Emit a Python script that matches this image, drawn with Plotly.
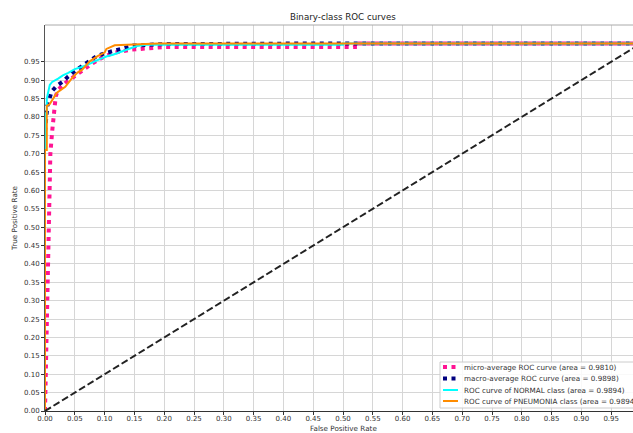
import plotly.graph_objects as go

# ---- data ----
micro_fpr = [0.0, 0.002, 0.004, 0.007, 0.009, 0.012, 0.015, 0.018, 0.022, 0.028, 0.034, 0.045,
             0.059, 0.076, 0.092, 0.114, 0.146, 0.20, 0.52, 0.52, 1.0]
micro_tpr = [0.0, 0.15, 0.35, 0.62, 0.70, 0.76, 0.81, 0.856, 0.874, 0.885, 0.892, 0.905,
             0.923, 0.942, 0.958, 0.974, 0.983, 0.99, 0.99, 1.0, 1.0]

macro_fpr = [0.0, 0.004, 0.008, 0.011, 0.02, 0.03, 0.039, 0.047, 0.07, 0.087, 0.10,
             0.112, 0.123, 0.134, 0.148, 0.17, 0.198, 0.5, 1.0]
macro_tpr = [0.76, 0.83, 0.852, 0.869, 0.885, 0.896, 0.91, 0.921, 0.947, 0.966, 0.973,
             0.978, 0.983, 0.988, 0.994, 0.996, 0.998, 1.0, 1.0]

normal_fpr = [0.0, 0.0, 0.003, 0.003, 0.008, 0.012, 0.022, 0.03, 0.039, 0.05, 0.06, 0.072,
              0.089, 0.104, 0.114, 0.134, 0.154, 0.17, 0.5, 0.5, 1.0]
normal_tpr = [0.0, 0.81, 0.81, 0.85, 0.887, 0.895, 0.904, 0.913, 0.92, 0.93, 0.935, 0.942,
              0.955, 0.965, 0.969, 0.982, 0.993, 0.996, 0.996, 1.0, 1.0]

pneu_fpr = [0.0, 0.0, 0.003, 0.003, 0.008, 0.02, 0.034, 0.045, 0.054, 0.062, 0.075, 0.089,
            0.10, 0.103, 0.117, 0.15, 0.19, 1.0]
pneu_tpr = [0.0, 0.71, 0.71, 0.83, 0.835, 0.866, 0.882, 0.905, 0.92, 0.928, 0.951, 0.966,
            0.975, 0.985, 0.995, 0.998, 1.0, 1.0]

diag_x = [0.0, 1.0]
diag_y = [0.0, 1.0]

labels = [
    "micro-average ROC curve (area = 0.9810)",
    "macro-average ROC curve (area = 0.9898)",
    "ROC curve of NORMAL class (area = 0.9894)",
    "ROC curve of PNEUMONIA class (area = 0.9894)",
]
colors = ["#FF1493", "#000080", "#00FFFF", "#FF8C00"]

tick_vals = [0.0, 0.05, 0.10, 0.15, 0.20, 0.25, 0.30, 0.35, 0.40, 0.45,
             0.50, 0.55, 0.60, 0.65, 0.70, 0.75, 0.80, 0.85, 0.90, 0.95]
tick_text = ["%.2f" % v for v in tick_vals]

FONT = "DejaVu Sans"
TXT = "#333333"

W, H = 633, 433
L, T, B = 45, 25, 22
plot_w = W - L
plot_h = H - T - B
x_max = plot_w / 596.0


def px(xp):
    return (xp - L) / plot_w


def py(yp):
    return (H - B - yp) / plot_h


DOT = "4px,4.5px"
styles = [dict(width=4, dash=DOT), dict(width=4, dash=DOT),
          dict(width=2, dash="solid"), dict(width=2, dash="solid")]
series = [(micro_fpr, micro_tpr), (macro_fpr, macro_tpr),
          (normal_fpr, normal_tpr), (pneu_fpr, pneu_tpr)]

fig = go.Figure()
for (xs, ys), lab, col, st in zip(series, labels, colors, styles):
    fig.add_trace(go.Scatter(x=xs, y=ys, mode="lines", name=lab, showlegend=False,
                             line=dict(color=col, width=st["width"], dash=st["dash"])))
fig.add_trace(go.Scatter(x=diag_x, y=diag_y, mode="lines", showlegend=False,
                         line=dict(color="#222222", width=2, dash="7px,3px")))

# hand-built legend (matplotlib-like compact legend, lower right)
shapes = [dict(type="line", xref="paper", yref="paper", x0=0, x1=1, y0=1, y1=1,
               line=dict(color="#aaaaaa", width=1)),
          dict(type="rect", xref="paper", yref="paper", layer="above",
               x0=px(440), x1=px(660), y0=py(408), y1=py(362),
               fillcolor="rgba(255,255,255,0.85)", line=dict(color="#cccccc", width=1))]
annotations = []
row_y = [367, 378.5, 390, 401]
for lab, col, st, ry in zip(labels, colors, styles, row_y):
    shapes.append(dict(type="line", xref="paper", yref="paper", layer="above",
                       x0=px(443), x1=px(458), y0=py(ry), y1=py(ry),
                       line=dict(color=col, width=st["width"], dash=st["dash"])))
    annotations.append(dict(text=lab, xref="paper", yref="paper", x=px(462), y=py(ry),
                            xanchor="left", yanchor="middle", showarrow=False,
                            font=dict(family=FONT, size=7.2, color=TXT)))

annotations += [
    dict(text="Binary-class ROC curves", xref="x", yref="paper", x=0.5, y=py(17),
         xanchor="center", yanchor="middle", showarrow=False,
         font=dict(family=FONT, size=8.7, color="#222222")),
    dict(text="False Positive Rate", xref="x", yref="paper", x=0.5, y=py(428.5),
         xanchor="center", yanchor="middle", showarrow=False,
         font=dict(family=FONT, size=7.2, color=TXT)),
    dict(text="True Positive Rate", xref="paper", yref="paper", x=px(14), y=0.5,
         xanchor="center", yanchor="middle", textangle=-90, showarrow=False,
         font=dict(family=FONT, size=7.2, color=TXT)),
]

axis_common = dict(tickvals=tick_vals, ticktext=tick_text,
                   showgrid=True, gridcolor="#d6d6d6", gridwidth=1, zeroline=False,
                   showline=True, linewidth=1,
                   ticks="outside", ticklen=3, tickcolor=TXT,
                   tickfont=dict(family=FONT, size=7, color=TXT))

fig.update_layout(
    width=W, height=H,
    margin=dict(l=L, r=0, t=T, b=B, autoexpand=False),
    paper_bgcolor="white", plot_bgcolor="white",
    font=dict(family=FONT, size=7, color=TXT),
    showlegend=False,
    xaxis=dict(range=[0, x_max], linecolor="#333333", ticklabelstandoff=-2, **axis_common),
    yaxis=dict(range=[0, 1.05], linecolor="#555555", **axis_common),
    shapes=shapes,
    annotations=annotations,
)

fig.write_html("out.html", config={"displayModeBar": False},
               post_script="document.body.style.margin='0px';document.body.style.overflow='hidden';")
